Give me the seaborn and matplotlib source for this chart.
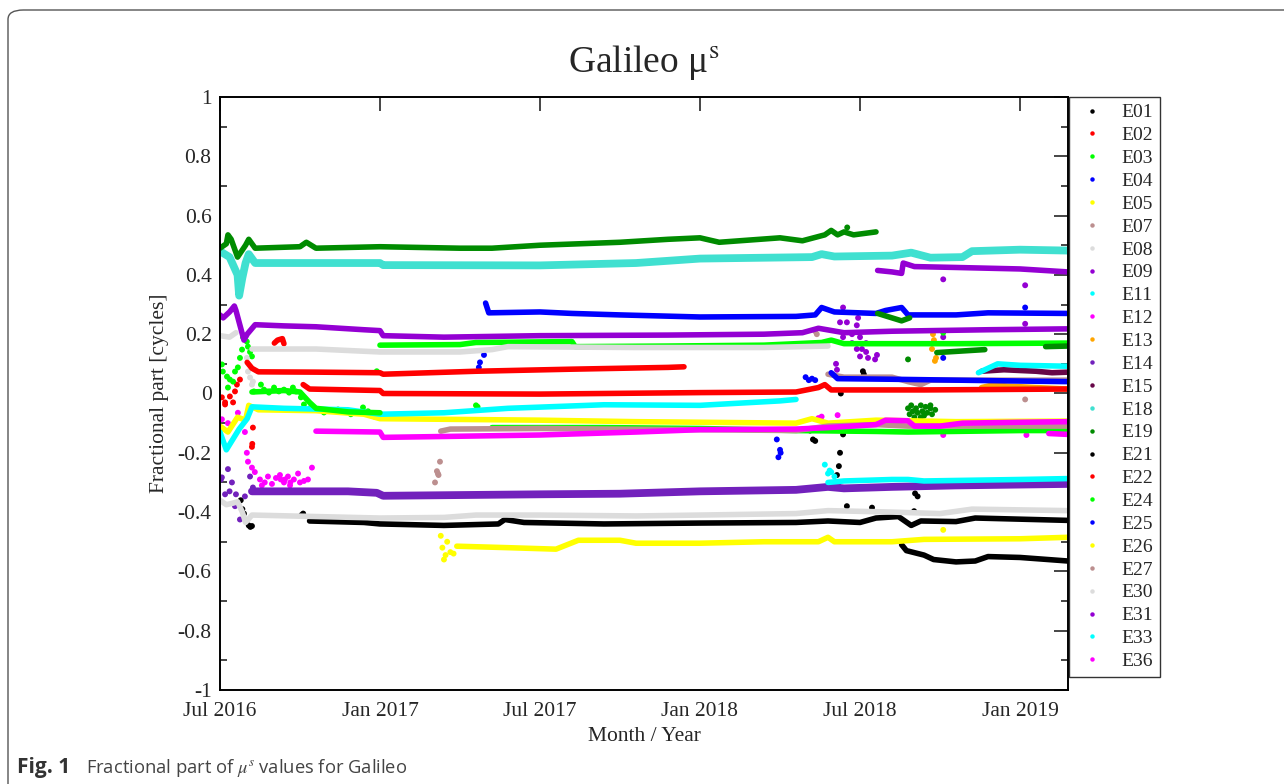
"""
Galileo mu^s fractional part, Jul 2016 - Feb 2019
values read off the published figure (decimal year, cycles)
"""
import numpy as np
import pandas as pd
import matplotlib
matplotlib.use('Agg')
import matplotlib.pyplot as plt
from matplotlib.lines import Line2D
from matplotlib.patches import FancyBboxPatch
import seaborn as sns

# ---- satellites and colours (xmgrace palette) ----
sats = ['E01', 'E02', 'E03', 'E04', 'E05', 'E07', 'E08', 'E09', 'E11', 'E12',
        'E13', 'E14', 'E15', 'E18', 'E19', 'E21', 'E22', 'E24', 'E25', 'E26',
        'E27', 'E30', 'E31', 'E33', 'E36']
sat_colors = ['#000000', '#ff0000', '#00ff00', '#0000ff', '#ffff00', '#bc8f8f',
              '#dcdcdc', '#9400d3', '#00ffff', '#ff00ff', '#ffa500', '#7221bc',
              '#670748', '#40e0d0', '#008b00', '#000000', '#ff0000', '#00ff00',
              '#0000ff', '#ffff00', '#bc8f8f', '#dcdcdc', '#9400d3', '#00ffff',
              '#ff00ff']
# eccentric-orbit satellites: their tracks oscillate, drawn as a wider band
wide_sats = ['E14', 'E18']

tick_years = [2016.5, 2017.0, 2017.5, 2018.0, 2018.5, 2019.0]
tick_names = ['Jul 2016', 'Jan 2017', 'Jul 2017', 'Jan 2018', 'Jul 2018', 'Jan 2019']
y_ticks = [1, 0.8, 0.6, 0.4, 0.2, 0, -0.2, -0.4, -0.6, -0.8, -1]
y_names = ['1', '0.8', '0.6', '0.4', '0.2', '0', '-0.2', '-0.4', '-0.6', '-0.8', '-1']

# ---- dense tracks: (year, fractional part) ----
E01_main = [(2016.78, -0.43), (2016.95, -0.435), (2017.0, -0.44), (2017.2, -0.445),
            (2017.37, -0.44), (2017.39, -0.425), (2017.45, -0.435), (2017.7, -0.44),
            (2018.0, -0.437), (2018.3, -0.435), (2018.4, -0.43), (2018.5, -0.435),
            (2018.55, -0.42), (2018.62, -0.415), (2018.66, -0.445), (2018.69, -0.43),
            (2018.8, -0.432), (2018.86, -0.42), (2019.15, -0.428)]
E02_main = [(2016.585, 0.105), (2016.6, 0.085), (2016.62, 0.073), (2016.8, 0.072),
            (2017.0, 0.07), (2017.01, 0.065), (2017.3, 0.075), (2017.6, 0.082),
            (2017.9, 0.088), (2017.95, 0.09)]
E02_hook = [(2016.67, 0.17), (2016.68, 0.18), (2016.695, 0.185), (2016.7, 0.168)]
E03_main = [(2017.0, 0.163), (2017.25, 0.165), (2017.3, 0.172), (2017.6, 0.175),
            (2017.61, 0.158), (2017.9, 0.16), (2018.2, 0.163), (2018.38, 0.172),
            (2018.41, 0.18), (2018.45, 0.168), (2018.8, 0.168), (2019.15, 0.17)]
E04_main = [(2017.33, 0.305), (2017.34, 0.272), (2017.5, 0.275), (2017.6, 0.27),
            (2017.75, 0.265), (2018.0, 0.258), (2018.3, 0.26), (2018.36, 0.265),
            (2018.38, 0.29), (2018.42, 0.275), (2018.55, 0.27), (2018.58, 0.28),
            (2018.63, 0.29), (2018.65, 0.265), (2018.8, 0.265), (2018.9, 0.272),
            (2019.15, 0.27)]
E05_main = [(2016.5, -0.11), (2016.525, -0.13), (2016.555, -0.08), (2016.58, -0.09),
            (2016.59, -0.04), (2016.62, -0.055), (2016.8, -0.058), (2016.95, -0.07),
            (2017.0, -0.085), (2017.5, -0.09), (2017.8, -0.095), (2018.0, -0.097),
            (2018.3, -0.1), (2018.35, -0.085), (2018.4, -0.1), (2018.55, -0.09),
            (2018.8, -0.095), (2019.15, -0.093)]
E07_main = [(2018.4, 0.065), (2018.45, 0.055), (2018.6, 0.055), (2018.65, 0.04),
            (2018.69, 0.03), (2018.72, 0.045), (2018.9, 0.045), (2019.15, 0.045)]
E08_main = [(2016.6, 0.15), (2016.8, 0.15), (2017.0, 0.14), (2017.25, 0.14),
            (2017.35, 0.148), (2017.4, 0.158), (2017.8, 0.155), (2018.2, 0.155),
            (2018.4, 0.16)]
E08_start = [(2016.5, 0.195), (2016.53, 0.19), (2016.55, 0.205)]
E09_main = [(2016.5, 0.265), (2016.51, 0.255), (2016.53, 0.275), (2016.545, 0.295),
            (2016.55, 0.28), (2016.565, 0.22), (2016.575, 0.18), (2016.585, 0.2),
            (2016.61, 0.232), (2016.7, 0.228), (2016.8, 0.225), (2016.95, 0.215),
            (2017.0, 0.212), (2017.01, 0.195), (2017.2, 0.19), (2017.5, 0.195),
            (2017.9, 0.197), (2018.2, 0.2), (2018.32, 0.205), (2018.37, 0.22),
            (2018.45, 0.205), (2018.6, 0.21), (2018.9, 0.215), (2019.15, 0.218)]
E11_main = [(2016.5, -0.13), (2016.52, -0.19), (2016.54, -0.155), (2016.56, -0.12),
            (2016.585, -0.085), (2016.6, -0.045), (2016.7, -0.05), (2016.9, -0.055),
            (2017.0, -0.07), (2017.2, -0.065), (2017.4, -0.05), (2017.7, -0.038),
            (2018.0, -0.04), (2018.25, -0.025), (2018.3, -0.02)]
E13_main = [(2018.88, 0.02), (2018.92, 0.03), (2018.96, 0.025), (2019.05, 0.02),
            (2019.15, 0.015)]
E14_main = [(2016.6, -0.33), (2016.9, -0.33), (2016.99, -0.335), (2017.01, -0.345),
            (2017.5, -0.34), (2017.75, -0.338), (2018.0, -0.33), (2018.3, -0.325),
            (2018.4, -0.315), (2018.45, -0.32), (2018.6, -0.315), (2018.8, -0.31),
            (2019.15, -0.305)]
E15_main = [(2018.88, 0.075), (2018.95, 0.08), (2019.05, 0.075), (2019.1, 0.07),
            (2019.15, 0.072)]
E18_main = [(2016.5, 0.48), (2016.53, 0.46), (2016.555, 0.40), (2016.56, 0.33),
            (2016.57, 0.39), (2016.58, 0.44), (2016.59, 0.47), (2016.61, 0.44),
            (2017.0, 0.44), (2017.01, 0.433), (2017.5, 0.432), (2017.8, 0.44),
            (2018.0, 0.455), (2018.35, 0.46), (2018.38, 0.47), (2018.42, 0.462),
            (2018.6, 0.465), (2018.66, 0.475), (2018.72, 0.458), (2018.82, 0.46),
            (2018.85, 0.48), (2019.0, 0.485), (2019.15, 0.482)]
E19_main = [(2016.5, 0.49), (2016.52, 0.505), (2016.525, 0.535), (2016.535, 0.52),
            (2016.555, 0.46), (2016.58, 0.5), (2016.59, 0.52), (2016.61, 0.49),
            (2016.75, 0.495), (2016.77, 0.51), (2016.8, 0.49), (2017.0, 0.495),
            (2017.25, 0.49), (2017.35, 0.49), (2017.5, 0.5), (2017.75, 0.51),
            (2017.9, 0.52), (2018.0, 0.525), (2018.06, 0.51), (2018.25, 0.525),
            (2018.32, 0.515), (2018.39, 0.535), (2018.41, 0.55), (2018.43, 0.535),
            (2018.45, 0.545), (2018.48, 0.535), (2018.55, 0.545)]
E19_b = [(2018.555, 0.27), (2018.6, 0.255), (2018.63, 0.245), (2018.655, 0.255)]
E19_c = [(2018.74, 0.138), (2018.8, 0.142), (2018.89, 0.148)]
E19_d = [(2019.08, 0.158), (2019.15, 0.16)]
E21_main = [(2018.63, -0.51), (2018.645, -0.53), (2018.7, -0.545), (2018.73, -0.56),
            (2018.8, -0.568), (2018.86, -0.565), (2018.9, -0.55), (2019.0, -0.553),
            (2019.15, -0.565)]
E22_main = [(2016.76, 0.03), (2016.78, 0.015), (2017.0, 0.01), (2017.01, 0.0),
            (2017.5, -0.002), (2018.0, 0.003), (2018.3, 0.005), (2018.37, 0.02),
            (2018.39, 0.03), (2018.41, 0.012), (2018.7, 0.012), (2019.15, 0.015)]
E24_early = [(2016.6, 0.005), (2016.7, 0.01), (2016.75, 0.005), (2016.78, -0.03),
             (2016.8, -0.05), (2016.9, -0.062), (2017.0, -0.065)]
E24_main = [(2017.35, -0.115), (2017.7, -0.115), (2018.0, -0.118), (2018.3, -0.125),
            (2018.55, -0.128), (2018.65, -0.13), (2019.0, -0.125), (2019.15, -0.125)]
E25_main = [(2018.41, 0.07), (2018.43, 0.05), (2018.6, 0.048), (2018.8, 0.045),
            (2019.0, 0.042), (2019.15, 0.04)]
E26_main = [(2017.24, -0.515), (2017.4, -0.52), (2017.55, -0.525), (2017.62, -0.495),
            (2017.75, -0.495), (2017.8, -0.505), (2018.0, -0.505), (2018.2, -0.5),
            (2018.37, -0.5), (2018.4, -0.485), (2018.42, -0.5), (2018.6, -0.5),
            (2018.7, -0.492), (2019.0, -0.49), (2019.15, -0.485)]
E27_main = [(2017.19, -0.127), (2017.22, -0.12), (2017.5, -0.118), (2017.7, -0.12),
            (2018.0, -0.122), (2018.3, -0.125), (2018.4, -0.11), (2018.55, -0.105),
            (2018.65, -0.11), (2019.15, -0.11)]
E30_main = [(2016.5, -0.36), (2016.52, -0.375), (2016.54, -0.37), (2016.555, -0.365),
            (2016.57, -0.4), (2016.58, -0.435), (2016.6, -0.41), (2016.8, -0.415),
            (2017.0, -0.42), (2017.2, -0.418), (2017.3, -0.41), (2017.5, -0.41),
            (2017.8, -0.413), (2018.0, -0.41), (2018.3, -0.405), (2018.4, -0.395),
            (2018.6, -0.4), (2018.75, -0.405), (2018.85, -0.39), (2019.15, -0.395)]
E31_main = [(2018.555, 0.415), (2018.6, 0.41), (2018.63, 0.405), (2018.635, 0.44),
            (2018.67, 0.428), (2018.8, 0.425), (2019.0, 0.42), (2019.15, 0.41)]
E33_main = [(2018.4, -0.3), (2018.45, -0.295), (2018.6, -0.29), (2018.65, -0.29),
            (2018.7, -0.295), (2019.0, -0.29), (2019.15, -0.287)]
E33_upper = [(2018.87, 0.07), (2018.9, 0.085), (2018.93, 0.1), (2019.0, 0.095),
             (2019.15, 0.092)]
E36_main = [(2016.8, -0.127), (2017.0, -0.13), (2017.01, -0.148), (2017.2, -0.145),
            (2017.5, -0.14), (2017.8, -0.13), (2018.0, -0.122), (2018.3, -0.12),
            (2018.4, -0.115), (2018.55, -0.105), (2018.58, -0.09), (2018.65, -0.092),
            (2018.67, -0.11), (2018.75, -0.11), (2018.82, -0.1), (2019.0, -0.097),
            (2019.15, -0.095)]
E36_late = [(2019.09, -0.135), (2019.15, -0.138)]

# ---- isolated epochs ----
E01_dots = [(2016.565, -0.36), (2016.57, -0.39), (2016.575, -0.405), (2016.59, -0.445),
            (2016.595, -0.45), (2016.6, -0.447), (2016.755, -0.41), (2016.76, -0.405)]
E02_dots = [(2016.506, -0.013), (2016.516, -0.037), (2016.531, -0.01), (2016.541, -0.03),
            (2016.547, 0.007), (2016.553, 0.03), (2016.5625, 0.047), (2016.516, -0.03),
            (2016.603, -0.115), (2016.6, -0.18), (2016.601, -0.17)]
E03_dots = [(2016.506, 0.098), (2016.509, 0.074), (2016.522, 0.057), (2016.531, 0.047),
            (2016.525, 0.02), (2016.541, 0.04), (2016.547, 0.074), (2016.556, 0.088),
            (2016.5625, 0.12), (2016.569, 0.148), (2016.572, 0.19), (2016.584, 0.175),
            (2016.5875, 0.158), (2016.594, 0.14), (2016.6, 0.125), (2016.99, 0.075)]
E04_dots = [(2017.325, 0.13), (2017.3125, 0.105), (2017.309, 0.088)]
E07_dots = [(2018.36, 0.21), (2018.365, 0.2)]
E08_dots = [(2016.584, 0.12), (2016.5875, 0.074), (2016.594, 0.054), (2016.6, 0.03),
            (2016.603, 0.04)]
E09_dots = [(2018.447, 0.29), (2018.4375, 0.24), (2018.459, 0.24), (2018.494, 0.255),
            (2018.49, 0.23), (2018.475, 0.2), (2018.447, 0.19), (2018.475, 0.17),
            (2018.5, 0.19), (2018.519, 0.17), (2018.49, 0.15), (2018.506, 0.15),
            (2018.519, 0.14), (2018.5, 0.125), (2018.525, 0.12), (2018.553, 0.13),
            (2018.547, 0.115), (2018.425, 0.1), (2018.428, 0.08), (2018.76, 0.385),
            (2019.016, 0.365), (2019.016, 0.235), (2018.76, 0.19)]
E12_dots = [(2016.506, -0.087), (2016.525, -0.1), (2016.556, -0.065), (2016.578, -0.13),
            (2016.584, -0.2), (2016.5875, -0.23), (2016.6, -0.25), (2016.609, -0.265),
            (2016.625, -0.29), (2016.631, -0.31), (2016.64, -0.3), (2016.65, -0.28),
            (2016.6625, -0.305), (2016.675, -0.285), (2016.6875, -0.275), (2016.7, -0.3),
            (2016.703, -0.29), (2016.7125, -0.28), (2016.719, -0.31), (2016.731, -0.29),
            (2016.744, -0.27), (2016.75, -0.3), (2016.7625, -0.295), (2016.775, -0.29),
            (2016.7875, -0.25), (2016.69, -0.29), (2016.72, -0.3)]
E13_dots = [(2018.728, 0.2), (2018.731, 0.18), (2018.725, 0.15), (2018.7375, 0.12),
            (2018.734, 0.11)]
E14_dots = [(2016.506, -0.283), (2016.525, -0.255), (2016.5375, -0.3), (2016.516, -0.34),
            (2016.547, -0.38), (2016.5625, -0.425), (2016.578, -0.347), (2016.594, -0.28),
            (2016.603, -0.317), (2016.503, -0.29), (2016.55, -0.34), (2016.53, -0.33)]
E19_dots = [(2018.65, -0.05), (2018.655, -0.07), (2018.66, -0.04), (2018.665, -0.06),
            (2018.67, -0.08), (2018.675, -0.05), (2018.68, -0.065), (2018.69, -0.04),
            (2018.695, -0.06), (2018.7, -0.075), (2018.705, -0.045), (2018.71, -0.065),
            (2018.72, -0.05), (2018.725, -0.07), (2018.735, -0.055), (2018.72, -0.04),
            (2018.69, -0.08), (2018.65, 0.115), (2018.46, 0.56)]
E21_dots = [(2018.344, -0.125), (2018.353, -0.155), (2018.36, -0.16), (2018.447, -0.138),
            (2018.4375, -0.2), (2018.434, -0.245), (2018.428, -0.275), (2018.431, -0.3),
            (2018.434, -0.315), (2018.459, -0.38), (2018.5375, -0.385), (2018.672, -0.337),
            (2018.68, -0.347), (2018.669, -0.397), (2018.509, 0.075), (2018.512, 0.065),
            (2018.44, 0.0)]
E24_dots = [(2016.606, 0.007), (2016.628, 0.03), (2016.6375, 0.013), (2016.653, 0.003),
            (2016.669, 0.02), (2016.684, 0.007), (2016.7, 0.013), (2016.716, 0.003),
            (2016.728, 0.02), (2016.7375, 0.007), (2016.753, -0.013), (2016.7625, -0.037),
            (2016.784, -0.047), (2016.825, -0.064), (2016.869, -0.054), (2016.909, -0.07),
            (2016.947, -0.047), (2016.9625, -0.06), (2016.981, -0.077), (2017.3, -0.04),
            (2017.305, -0.045), (2018.76, 0.205)]
E25_dots = [(2018.33, 0.055), (2018.34, 0.045), (2018.35, 0.05), (2018.36, 0.045),
            (2018.24, -0.155), (2018.25, -0.19), (2018.245, -0.215), (2018.252, -0.2),
            (2019.016, 0.29), (2018.76, 0.12)]
E26_dots = [(2017.19, -0.48), (2017.195, -0.52), (2017.2, -0.56), (2017.205, -0.545),
            (2017.21, -0.5), (2017.22, -0.535), (2017.23, -0.54), (2018.76, -0.46)]
E27_dots = [(2017.1875, -0.23), (2017.178, -0.262), (2017.181, -0.27), (2017.172, -0.3),
            (2017.183, -0.275), (2019.016, -0.02)]
E33_dots = [(2018.39, -0.24), (2018.405, -0.26), (2018.4, -0.27), (2018.41, -0.265),
            (2018.42, -0.28)]
E36_dots = [(2018.37, -0.083), (2018.38, -0.078), (2018.43, -0.073), (2018.76, -0.14),
            (2018.92, -0.1), (2019.02, -0.14)]

tracks = [('E01', E01_main), ('E02', E02_main), ('E02', E02_hook), ('E03', E03_main),
          ('E04', E04_main), ('E05', E05_main), ('E07', E07_main), ('E08', E08_main),
          ('E08', E08_start), ('E09', E09_main), ('E11', E11_main), ('E13', E13_main),
          ('E14', E14_main), ('E15', E15_main), ('E18', E18_main), ('E19', E19_main),
          ('E19', E19_b), ('E19', E19_c), ('E19', E19_d), ('E21', E21_main),
          ('E22', E22_main), ('E24', E24_early), ('E24', E24_main), ('E25', E25_main),
          ('E26', E26_main), ('E27', E27_main), ('E30', E30_main), ('E31', E31_main),
          ('E33', E33_main), ('E33', E33_upper), ('E36', E36_main), ('E36', E36_late)]
dots = [('E01', E01_dots), ('E02', E02_dots), ('E03', E03_dots), ('E04', E04_dots),
        ('E07', E07_dots), ('E08', E08_dots), ('E09', E09_dots), ('E12', E12_dots),
        ('E13', E13_dots), ('E14', E14_dots), ('E19', E19_dots), ('E21', E21_dots),
        ('E24', E24_dots), ('E25', E25_dots), ('E26', E26_dots), ('E27', E27_dots),
        ('E33', E33_dots), ('E36', E36_dots)]

# long tables for seaborn
rows = []
for k, (sat, pts) in enumerate(tracks):
    for t, v in pts:
        rows.append({'sat': sat, 'seg': k, 'year': t, 'frac': v})
track_df = pd.DataFrame(rows)
dot_df = pd.DataFrame([{'sat': s, 'year': t, 'frac': v}
                       for s, pts in dots for t, v in pts])

palette = dict(zip(sats, sat_colors))
is_wide = track_df['sat'].isin(wide_sats)

# ---- figure ----
sns.set_style('white')
plt.rcParams['font.family'] = ['Liberation Serif', 'DejaVu Serif']
plt.rcParams['mathtext.fontset'] = 'stix'

fig = plt.figure(figsize=(12.84, 7.84), dpi=100)
ax = fig.add_axes([0.1713, 0.1199, 0.6605, 0.7564])

sns.lineplot(data=track_df[is_wide], x='year', y='frac', hue='sat', units='seg',
             estimator=None, sort=False, palette=palette,
             hue_order=[s for s in sats if s in wide_sats],
             lw=5.6, solid_capstyle='round', legend=False, ax=ax)
sns.lineplot(data=track_df[~is_wide], x='year', y='frac', hue='sat', units='seg',
             estimator=None, sort=False, palette=palette,
             hue_order=[s for s in sats if s not in wide_sats],
             lw=4.0, solid_capstyle='round', legend=False, ax=ax)
sns.scatterplot(data=dot_df, x='year', y='frac', hue='sat', palette=palette,
                hue_order=sats, s=18, linewidth=0, legend=False, ax=ax)

ax.set_xlim(2016.5, 2019.15)
ax.set_ylim(-1, 1)
ax.set_xticks(tick_years)
ax.set_xticklabels(tick_names)
ax.set_yticks(y_ticks)
ax.set_yticklabels(y_names)
ax.set_yticks(np.arange(-0.9, 1.0, 0.2), minor=True)
ax.tick_params(which='major', direction='in', length=10, width=1.2,
               top=True, right=True, labelsize=15.5, pad=6)
ax.tick_params(axis='x', which='major', pad=9)
ax.tick_params(which='minor', direction='in', length=5, width=1.2,
               right=True, left=True)
ax.tick_params(axis='x', which='minor', bottom=False, top=False)
for sp in ax.spines.values():
    sp.set_linewidth(1.4)
    sp.set_color('black')

ax.set_xlabel('Month / Year', fontsize=15.5, labelpad=4)
ax.set_ylabel('Fractional part [cycles]', fontsize=15.5, labelpad=6)
ax.set_title('Galileo μ$^{\\mathrm{s}}$', fontsize=27, pad=18)

handles = [Line2D([], [], ls='', marker='o', markersize=3.2, color=c,
                  markeredgewidth=0) for c in sat_colors]
leg = ax.legend(handles, sats, loc='upper left', bbox_to_anchor=(1.0015, 1.0),
                borderaxespad=0, fontsize=14, labelspacing=0.27, handlelength=1.6,
                handletextpad=0.75, borderpad=0.35, fancybox=False, frameon=True,
                edgecolor='black')
leg.get_frame().set_linewidth(1.0)

# article frame and caption
frame = FancyBboxPatch((8 / 1284, -0.2), 1.2, 1.2 - 10 / 784,
                       boxstyle='round,pad=0,rounding_size=0.012',
                       transform=fig.transFigure, fill=False, lw=1.0,
                       edgecolor='#555555', clip_on=False)
fig.patches.append(frame)

fig.text(17 / 1284, 1 - 768 / 784, 'Fig. 1', fontsize=15, fontweight='bold',
         family=['Open Sans', 'DejaVu Sans'], color='#333333', va='center')
fig.text(86 / 1284, 1 - 768 / 784, 'Fractional part of $\\mu^{s}$ values for Galileo',
         fontsize=13.2, family=['Open Sans', 'DejaVu Sans'], color='#444444',
         va='center')

fig.savefig('out.png', dpi=100)
